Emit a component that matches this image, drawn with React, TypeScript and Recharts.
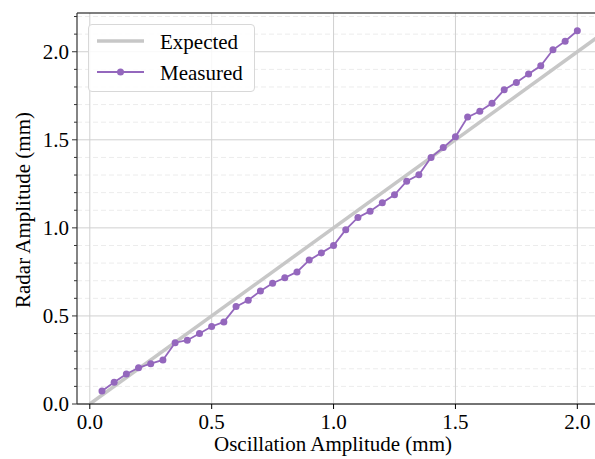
import React from 'react';
import { ComposedChart, Line, XAxis, YAxis, ReferenceLine, Legend } from 'recharts';

const amplitudes = [0.05, 0.1, 0.15, 0.2, 0.25, 0.3, 0.35, 0.4, 0.45, 0.5, 0.55, 0.6, 0.65, 0.7, 0.75, 0.8, 0.85, 0.9, 0.95, 1.0, 1.05, 1.1, 1.15, 1.2, 1.25, 1.3, 1.35, 1.4, 1.45, 1.5, 1.55, 1.6, 1.65, 1.7, 1.75, 1.8, 1.85, 1.9, 1.95, 2.0];
const measured = [0.074, 0.123, 0.17, 0.206, 0.229, 0.25, 0.348, 0.362, 0.4, 0.44, 0.466, 0.553, 0.589, 0.642, 0.686, 0.717, 0.75, 0.817, 0.858, 0.9, 0.99, 1.059, 1.095, 1.142, 1.188, 1.265, 1.301, 1.4, 1.456, 1.517, 1.629, 1.662, 1.707, 1.784, 1.826, 1.873, 1.92, 2.011, 2.06, 2.119];
const expectedX = [0, 2.1];
const expectedY = [0, 2.1];

const xTicks = [0, 0.5, 1.0, 1.5, 2.0];
const yMajorTicks = [0, 0.5, 1.0, 1.5, 2.0];
const yAllTicks = [0, 0.1, 0.2, 0.3, 0.4, 0.5, 0.6, 0.7, 0.8, 0.9, 1.0, 1.1, 1.2, 1.3, 1.4, 1.5, 1.6, 1.7, 1.8, 1.9, 2.0, 2.1, 2.2];
const yMinorTicks = yAllTicks.filter((t) => !yMajorTicks.includes(t));

const X_DOMAIN = [-0.0525, 2.0725];
const Y_DOMAIN = [0, 2.22];

const measuredData = amplitudes.map((x, i) => ({ x, y: measured[i] }));
const expectedData = expectedX.map((x, i) => ({ x, y: expectedY[i] }));

const FONT = "Liberation Serif";
const FS = 21;
const MEASURED_COLOR = '#9467bd';
const EXPECTED_COLOR = '#c7c7c7';

const YTick = (props: any) => {
  const { x, y, payload } = props;
  const v = payload.value as number;
  const major = yMajorTicks.includes(v);
  return (
    <g>
      <line x1={x} x2={x - (major ? 5 : 3)} y1={y} y2={y} stroke="#333" strokeWidth={1} />
      {major && (
        <text x={x - 8} y={y + 7} textAnchor="end" fontSize={FS} fontFamily={FONT} fill="#000">
          {v.toFixed(1)}
        </text>
      )}
    </g>
  );
};

const XTick = (props: any) => {
  const { x, y, payload } = props;
  const v = payload.value as number;
  return (
    <g>
      <line x1={x} x2={x} y1={y} y2={y + 5} stroke="#000" strokeWidth={1} />
      <text x={x} y={y + 25} textAnchor="middle" fontSize={FS} fontFamily={FONT} fill="#000">
        {v.toFixed(1)}
      </text>
    </g>
  );
};

const LegendBox = () => (
  <div
    style={{
      width: 167,
      height: 68,
      boxSizing: 'border-box',
      border: '1px solid #d8d8d8',
      borderRadius: 4,
      background: 'rgba(255,255,255,0.85)',
    }}
  >
    <svg width={165} height={66} style={{ display: 'block' }}>
      <line x1={8} x2={55} y1={16} y2={16} stroke={EXPECTED_COLOR} strokeWidth={3.5} />
      <text x={71} y={23.5} fontSize={FS} fontFamily={FONT} fill="#000">Expected</text>
      <line x1={8} x2={55} y1={47} y2={47} stroke={MEASURED_COLOR} strokeWidth={1.8} />
      <circle cx={31.5} cy={47} r={3.5} fill={MEASURED_COLOR} />
      <text x={71} y={54.5} fontSize={FS} fontFamily={FONT} fill="#000">Measured</text>
    </svg>
  </div>
);

export default function App() {
  return (
    <div style={{ position: 'absolute', left: 0, top: 0, background: '#fff', fontFamily: FONT }}>
      <ComposedChart
        width={595}
        height={459}
        margin={{ top: 13, right: 0, left: 17, bottom: 0 }}
        style={{ fontFamily: FONT }}
      >
        {yMinorTicks.map((t) => (
          <ReferenceLine key={'ym' + t} y={t} stroke="#ececec" strokeWidth={1} strokeDasharray="5 3" />
        ))}
        {yMajorTicks.map((t) => (
          <ReferenceLine key={'yM' + t} y={t} stroke="#d0d0d0" strokeWidth={1} />
        ))}
        {xTicks.map((t) => (
          <ReferenceLine key={'xM' + t} x={t} stroke="#d0d0d0" strokeWidth={1} />
        ))}
        <XAxis
          dataKey="x"
          type="number"
          domain={X_DOMAIN}
          ticks={xTicks}
          interval={0}
          allowDataOverflow
          height={55}
          tickSize={0}
          tickMargin={0}
          tickLine={false}
          tick={<XTick />}
          axisLine={{ stroke: '#000', strokeWidth: 1.2 }}
          label={{
            content: () => (
              <text x={333} y={451} textAnchor="middle" fontSize={FS} fontFamily={FONT} fill="#000">
                Oscillation Amplitude (mm)
              </text>
            ),
          }}
        />
        <YAxis
          dataKey="y"
          type="number"
          domain={Y_DOMAIN}
          ticks={yAllTicks}
          interval={0}
          allowDataOverflow
          width={60}
          tickSize={0}
          tickMargin={0}
          tickLine={false}
          tick={<YTick />}
          axisLine={{ stroke: '#333', strokeWidth: 1.2 }}
          label={{
            content: () => (
              <text
                x={29.5}
                y={210}
                textAnchor="middle"
                fontSize={FS}
                fontFamily={FONT}
                fill="#000"
                transform="rotate(-90 29.5 210)"
              >
                Radar Amplitude (mm)
              </text>
            ),
          }}
        />
        <ReferenceLine y={2.22} stroke="#000" strokeWidth={1.2} />
        <Line
          data={expectedData}
          dataKey="y"
          name="Expected"
          stroke={EXPECTED_COLOR}
          strokeWidth={3.5}
          dot={false}
          activeDot={false}
          isAnimationActive={false}
        />
        <Line
          data={measuredData}
          dataKey="y"
          name="Measured"
          stroke={MEASURED_COLOR}
          strokeWidth={1.8}
          dot={{ r: 3.5, fill: MEASURED_COLOR, stroke: MEASURED_COLOR, strokeWidth: 0 }}
          activeDot={false}
          isAnimationActive={false}
        />
        <Legend
          layout="horizontal"
          verticalAlign="middle"
          align="center"
          content={() => <LegendBox />}
          wrapperStyle={{ position: 'absolute', left: 88, top: 24, width: 167, height: 68, bottom: 'auto', right: 'auto' }}
        />
      </ComposedChart>
    </div>
  );
}
